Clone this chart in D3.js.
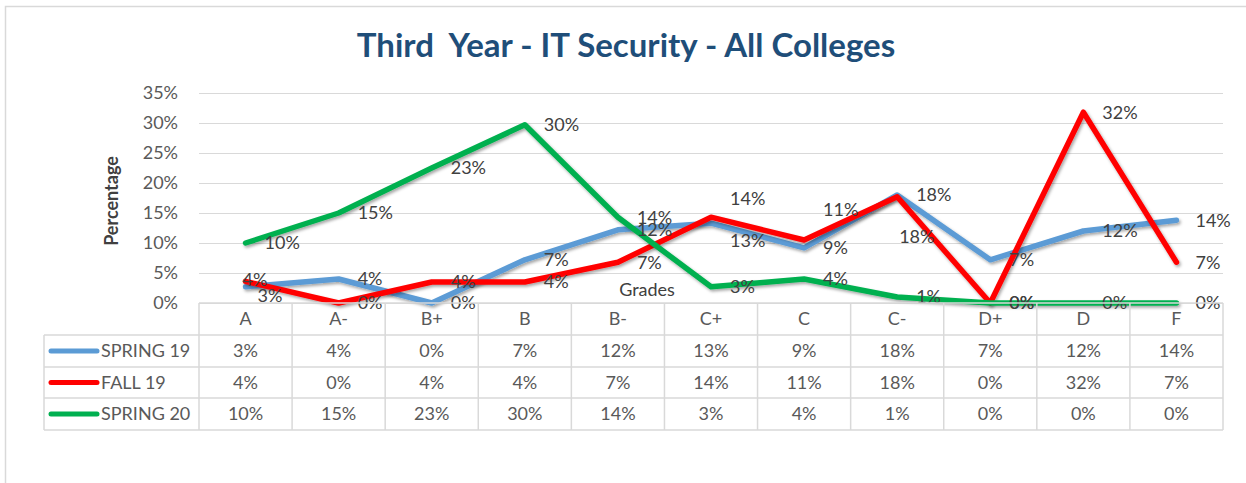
<!DOCTYPE html>
<html>
<head>
<meta charset="utf-8">
<script src="https://cdn.jsdelivr.net/npm/d3@7"></script>
<style>
  body { margin: 0; background: #fff; }
  svg { display: block; font-family: Lato, "Open Sans", sans-serif; }
</style>
</head>
<body>
<svg id="chart" width="1246" height="483"></svg>
<script>
// data
const grades = ["A", "A-", "B+", "B", "B-", "C+", "C", "C-", "D+", "D", "F"];
const spring19 = [0.027, 0.04, 0.0, 0.072, 0.122, 0.133, 0.092, 0.18, 0.072, 0.12, 0.138];
const fall19 = [0.036, 0.0, 0.035, 0.035, 0.068, 0.143, 0.105, 0.177, 0.0, 0.318, 0.068];
const spring20 = [0.10, 0.15, 0.225, 0.297, 0.143, 0.027, 0.04, 0.01, 0.0, 0.0, 0.0];
const yTicks = [0, 0.05, 0.1, 0.15, 0.2, 0.25, 0.3, 0.35];

const series = [
  {name: "SPRING 19", values: spring19, color: "#5B9BD5"},
  {name: "FALL 19", values: fall19, color: "#FF0000"},
  {name: "SPRING 20", values: spring20, color: "#00B050"}
];

// label nudges where excel labels were moved off the default "right" spot
const nudge = {
  "SPRING 19|A": [-7, 9],
  "SPRING 19|C+": [0, 17],
  "FALL 19|A": [-22, -2],
  "FALL 19|C+": [0, -19],
  "FALL 19|C": [0, -30],
  "FALL 19|C-": [-17, 40]
};

const svg = d3.select("#chart");
const pct = d3.format(".0%");
const fs = 18;

// outer frame
svg.append("rect")
  .attr("x", 5.5).attr("y", 6.5)
  .attr("width", 1300).attr("height", 600)
  .attr("fill", "none").attr("stroke", "#d9d9d9").attr("stroke-width", 1.5);

const x = d3.scaleBand().domain(grades).range([199, 1223]);
const y = d3.scaleLinear().domain([0, 0.35]).range([303, 93]);
const cx = (g) => x(g) + x.bandwidth() / 2;

// title
svg.append("text")
  .attr("x", 626).attr("y", 57)
  .attr("text-anchor", "middle")
  .style("white-space", "pre")
  .attr("font-size", 33).attr("font-weight", "bold")
  .attr("fill", "#1F4E79")
  .text("Third  Year - IT Security - All Colleges");

// y axis + gridlines
const yAxis = svg.append("g")
  .attr("transform", "translate(199,0)")
  .call(d3.axisLeft(y).tickValues(yTicks).tickFormat(pct).tickSize(-(1223 - 199)).tickPadding(21));
yAxis.select(".domain").remove();
yAxis.selectAll(".tick line").attr("stroke", "#d9d9d9").attr("stroke-width", 1.2);
yAxis.selectAll(".tick text")
  .attr("font-size", fs).attr("fill", "#595959")
  .attr("font-family", "Lato, sans-serif");

svg.append("text")
  .attr("transform", "translate(118,201) rotate(-90)")
  .attr("text-anchor", "middle")
  .attr("font-size", 18).attr("font-weight", "bold").attr("fill", "#404040")
  .text("Percentage");

svg.append("text")
  .attr("x", 647).attr("y", 296)
  .attr("text-anchor", "middle")
  .attr("font-size", fs).attr("fill", "#404040")
  .text("Grades");

// shadow like excel
const defs = svg.append("defs");
defs.append("filter").attr("id", "shadow")
  .attr("x", "-10%").attr("y", "-10%").attr("width", "120%").attr("height", "130%")
  .append("feDropShadow")
  .attr("dx", 1.5).attr("dy", 2).attr("stdDeviation", 1.5)
  .attr("flood-color", "#000").attr("flood-opacity", 0.35);

const line = d3.line()
  .x((d, i) => cx(grades[i]))
  .y((d) => y(d));

svg.append("g").selectAll("path")
  .data(series)
  .join("path")
  .attr("d", (s) => line(s.values))
  .attr("fill", "none")
  .attr("stroke", (s) => s.color)
  .attr("stroke-width", 5.5)
  .attr("stroke-linejoin", "round")
  .attr("stroke-linecap", "round")
  .attr("filter", "url(#shadow)");

// data labels
const labels = [];
series.forEach((s) => {
  s.values.forEach((v, i) => {
    const key = s.name + "|" + grades[i];
    const n = nudge[key] || [0, 0];
    labels.push({x: cx(grades[i]) + 19 + n[0], y: y(v) + n[1], t: pct(v)});
  });
});
svg.append("g").selectAll("text")
  .data(labels)
  .join("text")
  .attr("x", (d) => d.x).attr("y", (d) => d.y)
  .attr("dy", "0.35em")
  .attr("font-size", fs).attr("fill", "#404040")
  .text((d) => d.t);

// data table
const table = svg.append("g").attr("stroke", "#d9d9d9").attr("stroke-width", 1.5);
const rowY = [303, 335, 367, 398, 430];
rowY.forEach((ry, i) => {
  table.append("line")
    .attr("x1", i === 0 ? 199 : 44).attr("x2", 1223)
    .attr("y1", ry).attr("y2", ry);
});
grades.forEach((g) => {
  table.append("line").attr("x1", x(g)).attr("x2", x(g)).attr("y1", 303).attr("y2", 430);
});
table.append("line").attr("x1", 1223).attr("x2", 1223).attr("y1", 303).attr("y2", 430);
table.append("line").attr("x1", 44).attr("x2", 44).attr("y1", 335).attr("y2", 430);

svg.append("g").selectAll("text")
  .data(grades)
  .join("text")
  .attr("x", (g) => cx(g)).attr("y", 319)
  .attr("dy", "0.35em").attr("text-anchor", "middle")
  .attr("font-size", fs).attr("fill", "#595959")
  .text((g) => g);

const rows = svg.append("g").selectAll("g")
  .data(series)
  .join("g")
  .attr("transform", (s, i) => `translate(0,${(rowY[i + 1] + rowY[i + 2]) / 2})`);

rows.append("line")
  .attr("x1", 51).attr("x2", 97)
  .attr("stroke", (s) => s.color)
  .attr("stroke-width", 5).attr("stroke-linecap", "round");

rows.append("text")
  .attr("x", 101).attr("dy", "0.35em")
  .attr("font-size", fs).attr("fill", "#595959")
  .text((s) => s.name);

rows.selectAll("text.val")
  .data((s) => s.values)
  .join("text")
  .attr("class", "val")
  .attr("x", (v, i) => cx(grades[i])).attr("dy", "0.35em")
  .attr("text-anchor", "middle")
  .attr("font-size", fs).attr("fill", "#595959")
  .text((v) => pct(v));
</script>
</body>
</html>
